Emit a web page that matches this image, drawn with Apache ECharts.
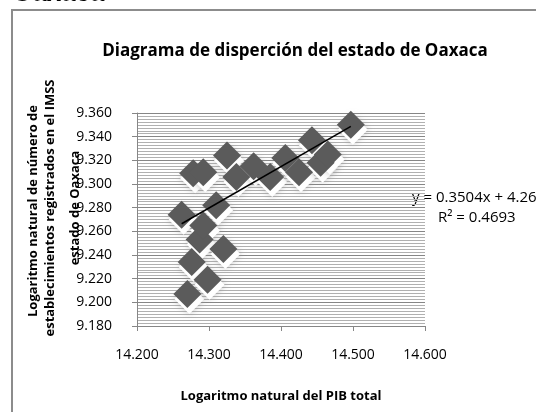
<!DOCTYPE html>
<html>
<head>
<meta charset="utf-8">
<script src="https://cdn.jsdelivr.net/npm/echarts@6/dist/echarts.min.js"></script>
<style>
  html, body { margin: 0; background: #fff; }
  #chart { width: 536px; height: 412px; }
</style>
</head>
<body>
<div id="chart"></div>
<script>
// ln(PIB total) vs ln(establecimientos IMSS), Oaxaca
const pibLog = [14.262, 14.270, 14.276, 14.287, 14.298, 14.320, 14.292, 14.310, 14.278, 14.292,
                14.325, 14.338, 14.362, 14.385, 14.406, 14.425, 14.443, 14.455, 14.465, 14.497];
const imssLog = [9.274, 9.207, 9.234, 9.253, 9.219, 9.245, 9.265, 9.282, 9.309, 9.310,
                 9.324, 9.306, 9.315, 9.306, 9.322, 9.310, 9.337, 9.318, 9.325, 9.350];
const slope = 0.3504;
const intercept = 4.269;
const eqText = "y = 0.3504x + 4.269";
const r2Text = "R² = 0.4693";

const font = "'Open Sans', 'Liberation Sans', sans-serif";

const points = pibLog.map((x, i) => [x, imssLog[i]]);
const xMin = Math.min(...pibLog);
const xMax = Math.max(...pibLog);
const trend = [xMin, xMax].map((x) => [x, slope * x + intercept]);

const chart = echarts.init(document.getElementById("chart"));
chart.setOption({
  backgroundColor: "#fff",
  animation: false,
  textStyle: { fontFamily: font },
  title: {
    text: "Diagrama de disperción del estado de Oaxaca",
    left: 290,
    top: 38,
    textAlign: "center",
    textStyle: { fontSize: 17, fontWeight: "bold", color: "#000", fontFamily: font },
  },
  grid: { left: 137, right: 111, top: 113, bottom: 86 },
  xAxis: {
    type: "value",
    min: 14.2,
    max: 14.6,
    interval: 0.1,
    axisLine: { lineStyle: { color: "#868686", width: 1 } },
    axisTick: { show: true, length: 5, lineStyle: { color: "#868686" } },
    axisLabel: {
      margin: 22,
      color: "#000",
      fontSize: 14,
      formatter: (v) => v.toFixed(3),
    },
    splitLine: { show: false },
    name: "Logaritmo natural del PIB total",
    nameLocation: "middle",
    nameGap: 64,
    nameTextStyle: { fontSize: 13, fontWeight: "bold", color: "#000" },
  },
  yAxis: {
    type: "value",
    min: 9.18,
    max: 9.36,
    interval: 0.02,
    axisLine: { show: true, lineStyle: { color: "#868686", width: 1 } },
    axisTick: { show: true, length: 5, lineStyle: { color: "#868686" } },
    axisLabel: {
      margin: 25,
      color: "#000",
      fontSize: 14,
      formatter: (v) => v.toFixed(3),
    },
    splitLine: { show: true, lineStyle: { color: "#868686", width: 1 } },
    minorTick: { show: false, splitNumber: 8 },
    minorSplitLine: { show: true, lineStyle: { color: "#b0b0b0", width: 1 } },
  },
  graphic: [
    {
      type: "rect",
      shape: { x: 12, y: 10, width: 700, height: 600 },
      style: { fill: "none", stroke: "#8c8c8c", lineWidth: 2 },
      silent: true,
    },
    {
      type: "text",
      left: 12,
      top: -19,
      style: { text: "Oaxaca", font: "bold 26px 'Liberation Sans', sans-serif", fill: "#000" },
    },
    {
      type: "text",
      x: 33,
      y: 211,
      rotation: Math.PI / 2,
      style: {
        text: "Logaritmo natural de número de",
        font: "bold 13px " + font,
        fill: "#000",
        align: "center",
        verticalAlign: "middle",
      },
    },
    {
      type: "text",
      x: 50,
      y: 208,
      rotation: Math.PI / 2,
      style: {
        text: "establecimientos registrados en el IMSS",
        font: "bold 13px " + font,
        fill: "#000",
        align: "center",
        verticalAlign: "middle",
      },
    },
    {
      type: "text",
      x: 75,
      y: 208,
      rotation: Math.PI / 2,
      style: {
        text: "estado de Oaxaca",
        font: "bold 13px " + font,
        fill: "#000",
        align: "center",
        verticalAlign: "middle",
      },
    },
    {
      type: "text",
      x: 412,
      y: 198,
      style: { text: eqText, font: "15px " + font, fill: "#000", verticalAlign: "middle" },
    },
    {
      type: "text",
      x: 438,
      y: 218,
      style: { text: r2Text, font: "15px " + font, fill: "#000", verticalAlign: "middle" },
    },
  ],
  series: [
    {
      // soft white shadow under the markers
      type: "scatter",
      data: points,
      symbol: "diamond",
      symbolSize: 30,
      symbolOffset: [2, 5],
      silent: true,
      itemStyle: {
        color: "#ffffff",
        opacity: 1,
        shadowColor: "rgba(150,150,150,0.6)",
        shadowBlur: 6,
      },
      z: 1,
    },
    {
      type: "scatter",
      data: points,
      symbol: "diamond",
      symbolSize: 28,
      itemStyle: { color: "#5b5b5b", opacity: 1 },
      z: 2,
    },
    {
      type: "line",
      data: trend,
      symbol: "none",
      lineStyle: { color: "#000", width: 1.5 },
      z: 3,
    },
  ],
});
</script>
</body>
</html>
